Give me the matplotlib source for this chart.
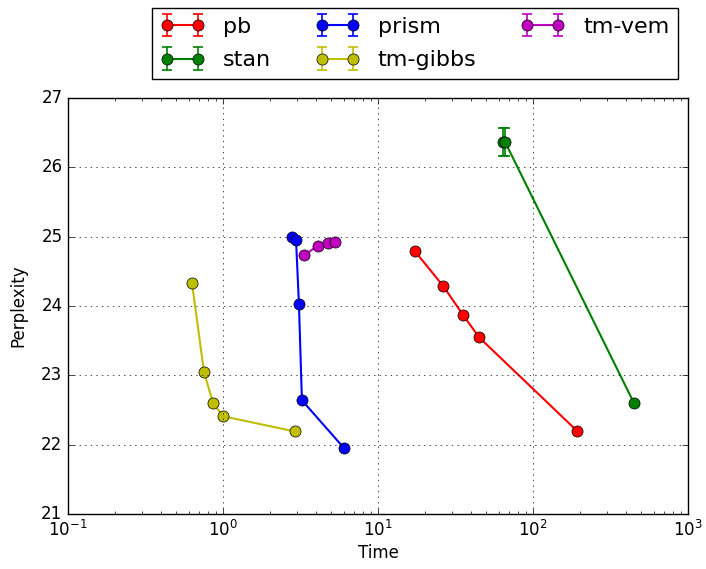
import matplotlib
matplotlib.use("Agg")
import matplotlib.pyplot as plt

plt.style.use('classic')

pb_time = [17.3, 26.3, 35.4, 44.8, 192.0]
pb_perp = [24.79, 24.29, 23.87, 23.55, 22.20]

stan_time = [64.0, 65.9, 448.0]
stan_perp = [26.37, 26.37, 22.60]
stan_err = [0.2, 0.2, 0.0]

prism_time = [2.79, 2.96, 3.09, 3.23, 6.04]
prism_perp = [24.99, 24.95, 24.03, 22.64, 21.95]

gibbs_time = [0.631, 0.754, 0.862, 1.0, 2.91]
gibbs_perp = [24.33, 23.05, 22.60, 22.41, 22.19]

vem_time = [3.33, 4.10, 4.76, 5.28]
vem_perp = [24.73, 24.87, 24.91, 24.93]

fig = plt.figure(figsize=(7.06, 5.69), dpi=100, facecolor='white')
ax = fig.add_axes([0.0963, 0.0967, 0.8782, 0.7311])

kw = dict(marker='o', markersize=8, capsize=3.5, markeredgecolor='black',
          linewidth=1.5, elinewidth=1.2, capthick=1.2)
ax.errorbar(pb_time, pb_perp, yerr=[0]*len(pb_time), color='r', label='pb', **kw)
ax.errorbar(stan_time, stan_perp, yerr=stan_err, color='g', label='stan', **kw)
ax.errorbar(prism_time, prism_perp, yerr=[0]*len(prism_time), color='b', label='prism', **kw)
ax.errorbar(gibbs_time, gibbs_perp, yerr=[0]*len(gibbs_time), color='y', label='tm-gibbs', **kw)
ax.errorbar(vem_time, vem_perp, yerr=[0]*len(vem_time), color='m', label='tm-vem', **kw)

ax.set_xscale('log')
ax.set_xlim(0.1, 1000)
ax.set_ylim(21, 27)
ax.set_xlabel('Time', labelpad=3)
ax.set_ylabel('Perplexity', labelpad=10)
ax.grid(True)

ax.legend(loc='lower right', bbox_to_anchor=(0.984, 1.045), borderaxespad=0,
          ncol=3, numpoints=2, fontsize=16, labelspacing=0.6)

fig.savefig('out.png', dpi=100, facecolor='white')
